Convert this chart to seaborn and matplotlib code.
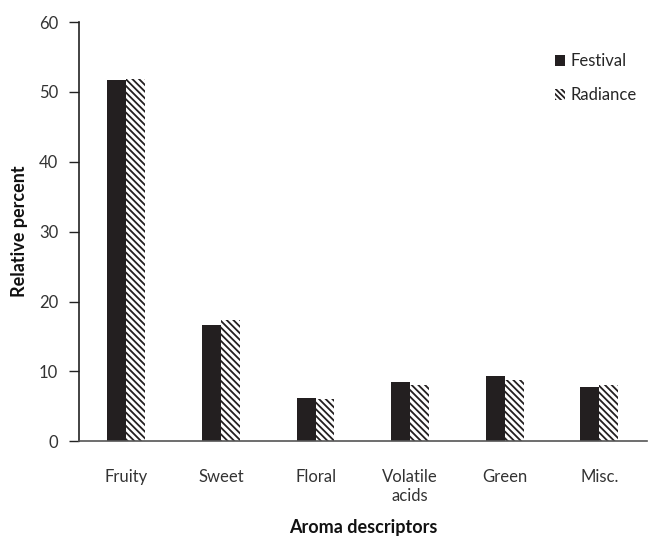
import pandas as pd
import seaborn as sns
import matplotlib.pyplot as plt

# values
categories = ["Fruity", "Sweet", "Floral", "Volatile\nacids", "Green", "Misc."]
festival = [51.7, 16.6, 6.2, 8.5, 9.3, 7.7]
radiance = [51.9, 17.3, 6.0, 8.0, 8.8, 8.0]
cultivars = ["Festival", "Radiance"]

df = pd.DataFrame({
    "Aroma": categories * 2,
    "Value": festival + radiance,
    "Cultivar": [cultivars[0]] * len(categories) + [cultivars[1]] * len(categories),
})

sns.set_theme(style="white")
plt.rcParams["font.family"] = ["Lato", "DejaVu Sans"]
plt.rcParams["hatch.linewidth"] = 1.3

fig = plt.figure(figsize=(6.48, 5.4), dpi=100)
ax = fig.add_axes([0.122, 0.183, 0.876, 0.776])

dark = "#231f20"
hatch = "\\\\\\\\\\"
sns.barplot(data=df, x="Aroma", y="Value", hue="Cultivar", palette=[dark, "white"],
            width=0.4, gap=0, saturation=1, ax=ax, legend=True)

# second series is hatched
for bar in ax.containers[1]:
    bar.set_hatch(hatch)
    bar.set_edgecolor(dark)
    bar.set_linewidth(0)
for bar in ax.containers[0]:
    bar.set_edgecolor(dark)
    bar.set_linewidth(0)

ax.set_xlim(-0.5, 5.5)
ax.set_ylim(0, 60)
ax.set_yticks(range(0, 61, 10))
ax.set_xlabel("Aroma descriptors", fontsize=13, fontweight="bold", color="#111111")
ax.xaxis.set_label_coords(0.5, -0.205)
ax.xaxis.label.set_verticalalignment("center")
ax.set_ylabel("Relative percent", fontsize=13, fontweight="bold", color="#111111")
ax.yaxis.set_label_coords(-0.09, 0.5)
ax.tick_params(axis="y", length=7, width=1, color="#222222", labelsize=12, labelcolor="#333333",
               direction="out", left=True, pad=8)
ax.tick_params(axis="x", length=0, labelsize=12, labelcolor="#333333", pad=20)
for t in ax.get_xticklabels():
    t.set_verticalalignment("top")

for s in ["top", "right"]:
    ax.spines[s].set_visible(False)
ax.spines["left"].set_color("#222222")
ax.spines["bottom"].set_color("#555555")
ax.spines["left"].set_linewidth(1.2)
ax.spines["bottom"].set_linewidth(1.2)

leg = ax.legend(loc="upper right", bbox_to_anchor=(1.0, 0.95), frameon=False, fontsize=12,
                borderaxespad=0.2, handlelength=0.6, handleheight=0.6, handletextpad=0.3,
                labelspacing=1.1)
for h in leg.legend_handles:
    h.set_linewidth(0)
leg.legend_handles[1].set_hatch("\\\\\\\\\\\\")
leg.legend_handles[1].set_edgecolor(dark)

fig.savefig("out.png", dpi=100)
